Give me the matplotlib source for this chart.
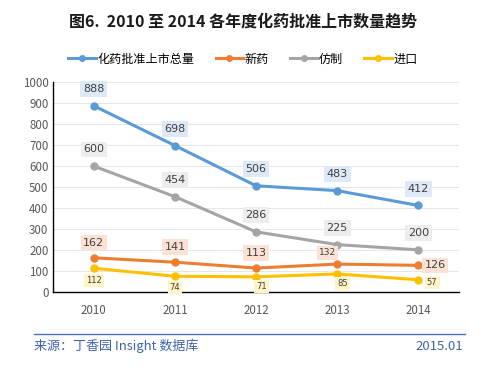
import matplotlib.pyplot as plt
from matplotlib.lines import Line2D

plt.rcParams['font.family'] = ['Noto Sans CJK SC', 'DejaVu Sans']

# data
years = ['2010', '2011', '2012', '2013', '2014']
total = [888, 698, 506, 483, 412]
new_drug = [162, 141, 113, 132, 126]
generic = [600, 454, 286, 225, 200]
imported = [112, 74, 71, 85, 57]

series_names = ['化药批准上市总量', '新药', '仿制', '进口']
colors = ['#5b9bd5', '#ed7d31', '#a5a5a5', '#ffc000']
box_colors = ['#dde9f6', '#fbe2d5', '#ededed', '#fff4c6']

fig = plt.figure(figsize=(4.86, 3.85), dpi=100)
ax = fig.add_axes([0.1097, 0.2423, 0.8343, 0.5437])

x = range(len(years))
all_series = [total, new_drug, generic, imported]
for vals, c in zip(all_series, colors):
    ax.plot(x, vals, color=c, lw=2.2, marker='o', ms=5, zorder=3)

# data labels with a pale box; offsets in points
def label(i, v, k, dx, dy, fs=8):
    ax.annotate(str(v), (i, v), xytext=(dx, dy), textcoords='offset points',
                ha='center', va='center', fontsize=fs, color='#404040',
                family='DejaVu Sans', zorder=5,
                bbox=dict(boxstyle='square,pad=0.25', fc=box_colors[k], ec='none'))

for i, v in enumerate(total):
    label(i, v, 0, 0, 12)
for i, v in enumerate(generic):
    label(i, v, 2, 0, 12)
new_off = [(0, 11), (0, 11), (0, 11), (-7, 8), (12, 0)]
for i, v in enumerate(new_drug):
    fs = 6.5 if i == 3 else 8
    label(i, v, 1, new_off[i][0], new_off[i][1], fs)
imp_off = [(0, -9), (0, -8), (4, -7), (4, -7), (10, -2)]
for i, v in enumerate(imported):
    label(i, v, 3, imp_off[i][0], imp_off[i][1], 6)

ax.set_xlim(-0.5, 4.5)
ax.set_ylim(0, 1000)
ax.set_yticks(range(0, 1001, 100))
ax.set_xticks(list(x))
ax.set_xticklabels(years)
ax.tick_params(axis='both', length=0, labelsize=8.3, colors='#595959')
ax.tick_params(axis='x', pad=9)
ax.grid(axis='y', color='#e6e6e6', lw=0.7)
ax.set_axisbelow(True)
for s in ['top', 'right']:
    ax.spines[s].set_visible(False)
for s in ['left', 'bottom']:
    ax.spines[s].set_color('black')
    ax.spines[s].set_linewidth(1)

fig.text(0.5, 1 - 22 / 385, '图6.  2010 至 2014 各年度化药批准上市数量趋势',
         ha='center', va='center', fontsize=11.5, fontweight='bold', color='#1a1a1a')

handles = [Line2D([], [], color=c, lw=2.2, marker='o', ms=4) for c in colors]
fig.legend(handles, series_names, loc='center', bbox_to_anchor=(0.5, 1 - 59 / 385),
           ncol=4, frameon=False, fontsize=8.7, handlelength=2.3, columnspacing=1.75,
           handletextpad=0.1)

fig.add_artist(Line2D([34 / 486, 465 / 486], [1 - 334 / 385] * 2, color='#4a74b8', lw=1))
fig.text(34 / 486, 1 - 346 / 385, '来源：丁香园 Insight 数据库', ha='left', va='center',
         fontsize=9.4, color='#3f64ad')
fig.text(463 / 486, 1 - 346 / 385, '2015.01', ha='right', va='center',
         fontsize=9.5, color='#3f64ad')

fig.savefig('out.png', dpi=100)
